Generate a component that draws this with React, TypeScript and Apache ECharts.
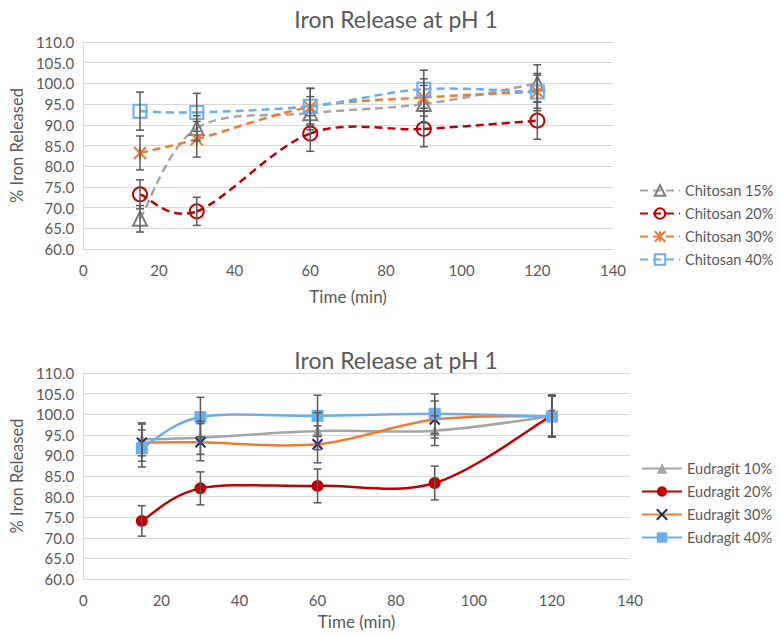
import React, { useEffect, useRef } from "react";
import * as echarts from "echarts";

const times = [15, 30, 60, 90, 120];

const chitosanNames = ["Chitosan 15%", "Chitosan 20%", "Chitosan 30%", "Chitosan 40%"];
const chitosan15 = [67.3, 89.2, 92.8, 95.0, 100.0];
const chitosan20 = [73.2, 69.1, 87.9, 89.0, 91.0];
const chitosan30 = [83.2, 86.5, 94.3, 96.6, 98.0];
const chitosan40 = [93.3, 93.0, 94.5, 98.6, 97.9];
const chitosan15Err = [3.2, 3.0, 4.0, 4.5, 4.5];
const chitosan20Err = [3.5, 3.4, 4.3, 4.3, 4.5];
const chitosan30Err = [4.1, 4.3, 4.5, 4.5, 4.0];
const chitosan40Err = [4.6, 4.6, 4.3, 4.6, 4.5];

const eudragitNames = ["Eudragit 10%", "Eudragit 20%", "Eudragit 30%", "Eudragit 40%"];
const eudragit10 = [93.9, 94.3, 95.9, 96.0, 99.5];
const eudragit20 = [74.1, 82.0, 82.6, 83.3, 99.7];
const eudragit30 = [93.1, 93.2, 92.7, 98.7, 99.5];
const eudragit40 = [91.7, 99.3, 99.6, 100.1, 99.4];
const eudragit10Err = [4.0, 4.0, 4.5, 3.6, 5.0];
const eudragit20Err = [3.7, 4.0, 4.1, 4.1, 5.0];
const eudragit30Err = [4.5, 4.5, 4.5, 4.5, 5.0];
const eudragit40Err = [4.5, 4.8, 5.0, 4.8, 5.0];

const FONT = "Lato, 'Open Sans', sans-serif";
const TXT = "#595959";
const GRIDC = "#d9d9d9";

const pairs = (vals: number[]) => times.map((t, i) => [t, vals[i]]);
const errData = (vals: number[], errs: number[]) =>
  times.map((t, i) => [t, vals[i] - errs[i], vals[i] + errs[i]]);

function errorSeries(name: string, vals: number[], errs: number[], idx: number) {
  return {
    type: "custom",
    name: name + " err",
    xAxisIndex: idx,
    yAxisIndex: idx,
    z: 4,
    silent: true,
    encode: { x: 0, y: [1, 2] },
    data: errData(vals, errs),
    renderItem: (params: any, api: any) => {
      const x = api.value(0);
      const lo = api.coord([x, api.value(1)]);
      const hi = api.coord([x, api.value(2)]);
      const w = 4;
      const style = { stroke: "#5a5a5a", lineWidth: 1.5 };
      return {
        type: "group",
        children: [
          { type: "line", shape: { x1: lo[0], y1: lo[1], x2: hi[0], y2: hi[1] }, style },
          { type: "line", shape: { x1: lo[0] - w, y1: lo[1], x2: lo[0] + w, y2: lo[1] }, style },
          { type: "line", shape: { x1: hi[0] - w, y1: hi[1], x2: hi[0] + w, y2: hi[1] }, style },
        ],
      };
    },
  };
}

// Excel-like (Catmull-Rom) smoothed curve drawn through the axes' coordinates
function curveSeries(name: string, vals: number[], idx: number, color: string, dash: boolean) {
  const pts = pairs(vals);
  const n = pts.length;
  return {
    type: "custom",
    name: name + " curve",
    xAxisIndex: idx,
    yAxisIndex: idx,
    z: 2,
    silent: true,
    encode: { x: 0, y: 1 },
    data: pts,
    renderItem: (params: any, api: any) => {
      const i = params.dataIndex;
      if (i >= n - 1) return { type: "group", children: [] };
      const p0 = pts[Math.max(0, i - 1)];
      const p1 = pts[i];
      const p2 = pts[i + 1];
      const p3 = pts[Math.min(n - 1, i + 2)];
      const c1 = [p1[0] + (p2[0] - p0[0]) / 6, p1[1] + (p2[1] - p0[1]) / 6];
      const c2 = [p2[0] - (p3[0] - p1[0]) / 6, p2[1] - (p3[1] - p1[1]) / 6];
      const a = api.coord(p1);
      const b = api.coord(p2);
      const ca = api.coord(c1);
      const cb = api.coord(c2);
      return {
        type: "bezierCurve",
        shape: { x1: a[0], y1: a[1], x2: b[0], y2: b[1], cpx1: ca[0], cpy1: ca[1], cpx2: cb[0], cpy2: cb[1] },
        style: {
          fill: "none",
          stroke: color,
          lineWidth: 2.5,
          lineDash: dash ? [8, 5] : null,
          lineCap: "butt",
        },
      };
    },
  };
}

const STAR = "path://M0,0L10,10M10,0L0,10M5,0L5,10";
const XMARK = "path://M0,0L10,10M10,0L0,10";

function xAxis(idx: number, gap: number) {
  return {
    type: "value",
    gridIndex: idx,
    min: 0,
    max: 140,
    interval: 20,
    name: "Time (min)",
    nameLocation: "middle",
    nameGap: gap,
    nameTextStyle: { fontFamily: FONT, fontSize: 17, color: TXT },
    axisLine: { show: true, lineStyle: { color: GRIDC, width: 1 } },
    axisTick: { show: false },
    splitLine: { show: false },
    axisLabel: { fontFamily: FONT, fontSize: 15, color: TXT, margin: 13 },
  };
}

function yAxis(idx: number) {
  return {
    type: "value",
    gridIndex: idx,
    min: 60,
    max: 110,
    interval: 5,
    name: "% Iron Released",
    nameLocation: "middle",
    nameGap: 50,
    nameTextStyle: { fontFamily: FONT, fontSize: 16.5, color: TXT },
    axisLine: { show: true, lineStyle: { color: GRIDC, width: 1 } },
    axisTick: { show: false },
    splitLine: { show: true, lineStyle: { color: GRIDC, width: 1 } },
    axisLabel: {
      fontFamily: FONT,
      fontSize: 15,
      color: TXT,
      margin: 9,
      formatter: (v: number) => v.toFixed(1),
    },
  };
}

function markerSeries(name: string, vals: number[], idx: number, symbol: string, size: number,
  lineStyle: any, itemStyle: any) {
  return {
    name,
    type: "line",
    xAxisIndex: idx,
    yAxisIndex: idx,
    z: 3,
    data: pairs(vals),
    symbol,
    symbolSize: size,
    lineStyle: { ...lineStyle, opacity: 0 },
    itemStyle,
  };
}

export default function App() {
  const ref = useRef<HTMLDivElement>(null);
  useEffect(() => {
    if (!ref.current) return;
    const chart = echarts.init(ref.current, null, { renderer: "svg" });
    const dashed = (color: string) => ({ color, width: 2.5, type: [8, 5] });
    const solid = (color: string) => ({ color, width: 2.5, type: "solid" });
    const legendText = { fontFamily: FONT, fontSize: 14.5, color: TXT };
    const GRAY = "#a5a5a5";
    const RED = "#c00000";
    const ORANGE = "#ed7d31";
    const BLUE = "#6aaef0";
    const option: any = {
      animation: false,
      backgroundColor: "#ffffff",
      title: [
        {
          text: "Iron Release at pH 1",
          left: 391,
          top: 2,
          textAlign: "center",
          textStyle: { fontFamily: FONT, fontSize: 23, fontWeight: "normal", color: TXT },
        },
        {
          text: "Iron Release at pH 1",
          left: 391,
          top: 343,
          textAlign: "center",
          textStyle: { fontFamily: FONT, fontSize: 23, fontWeight: "normal", color: TXT },
        },
      ],
      legend: [
        {
          data: chitosanNames,
          orient: "vertical",
          left: 634,
          top: 178,
          itemWidth: 40,
          itemHeight: 13,
          itemGap: 8,
          textStyle: legendText,
          lineStyle: { opacity: 1 },
        },
        {
          data: eudragitNames,
          orient: "vertical",
          left: 636,
          top: 456,
          itemWidth: 40,
          itemHeight: 13,
          itemGap: 8,
          textStyle: legendText,
          lineStyle: { opacity: 1 },
        },
      ],
      grid: [
        { left: 72, right: 167, top: 42, height: 207 },
        { left: 72, right: 150, top: 373, height: 206 },
      ],
      xAxis: [xAxis(0, 39), xAxis(1, 34)],
      yAxis: [yAxis(0), yAxis(1)],
      series: [
        curveSeries(chitosanNames[0], chitosan15, 0, GRAY, true),
        curveSeries(chitosanNames[1], chitosan20, 0, RED, true),
        curveSeries(chitosanNames[2], chitosan30, 0, ORANGE, true),
        curveSeries(chitosanNames[3], chitosan40, 0, BLUE, true),
        markerSeries(chitosanNames[0], chitosan15, 0, "triangle", 14, dashed(GRAY),
          { color: "transparent", borderColor: "#7b7f7f", borderWidth: 2 }),
        markerSeries(chitosanNames[1], chitosan20, 0, "circle", 14, dashed(RED),
          { color: "transparent", borderColor: RED, borderWidth: 2 }),
        markerSeries(chitosanNames[2], chitosan30, 0, STAR, 12, dashed(ORANGE),
          { color: "transparent", borderColor: ORANGE, borderWidth: 2 }),
        markerSeries(chitosanNames[3], chitosan40, 0, "rect", 13, dashed(BLUE),
          { color: "transparent", borderColor: BLUE, borderWidth: 2 }),
        errorSeries(chitosanNames[0], chitosan15, chitosan15Err, 0),
        errorSeries(chitosanNames[1], chitosan20, chitosan20Err, 0),
        errorSeries(chitosanNames[2], chitosan30, chitosan30Err, 0),
        errorSeries(chitosanNames[3], chitosan40, chitosan40Err, 0),
        curveSeries(eudragitNames[0], eudragit10, 1, GRAY, false),
        curveSeries(eudragitNames[1], eudragit20, 1, RED, false),
        curveSeries(eudragitNames[2], eudragit30, 1, ORANGE, false),
        curveSeries(eudragitNames[3], eudragit40, 1, BLUE, false),
        markerSeries(eudragitNames[0], eudragit10, 1, "triangle", 11, solid(GRAY), { color: GRAY }),
        markerSeries(eudragitNames[1], eudragit20, 1, "circle", 12, solid(RED), { color: RED }),
        markerSeries(eudragitNames[2], eudragit30, 1, XMARK, 10, solid(ORANGE),
          { color: "transparent", borderColor: "#1f2a6b", borderWidth: 2 }),
        markerSeries(eudragitNames[3], eudragit40, 1, "rect", 12, solid(BLUE), { color: BLUE }),
        errorSeries(eudragitNames[0], eudragit10, eudragit10Err, 1),
        errorSeries(eudragitNames[1], eudragit20, eudragit20Err, 1),
        errorSeries(eudragitNames[2], eudragit30, eudragit30Err, 1),
        errorSeries(eudragitNames[3], eudragit40, eudragit40Err, 1),
      ],
    };
    chart.setOption(option);
    return () => chart.dispose();
  }, []);
  return (
    <div
      ref={ref}
      style={{ position: "fixed", left: 0, top: 0, width: 780, height: 638, background: "#fff" }}
    />
  );
}
